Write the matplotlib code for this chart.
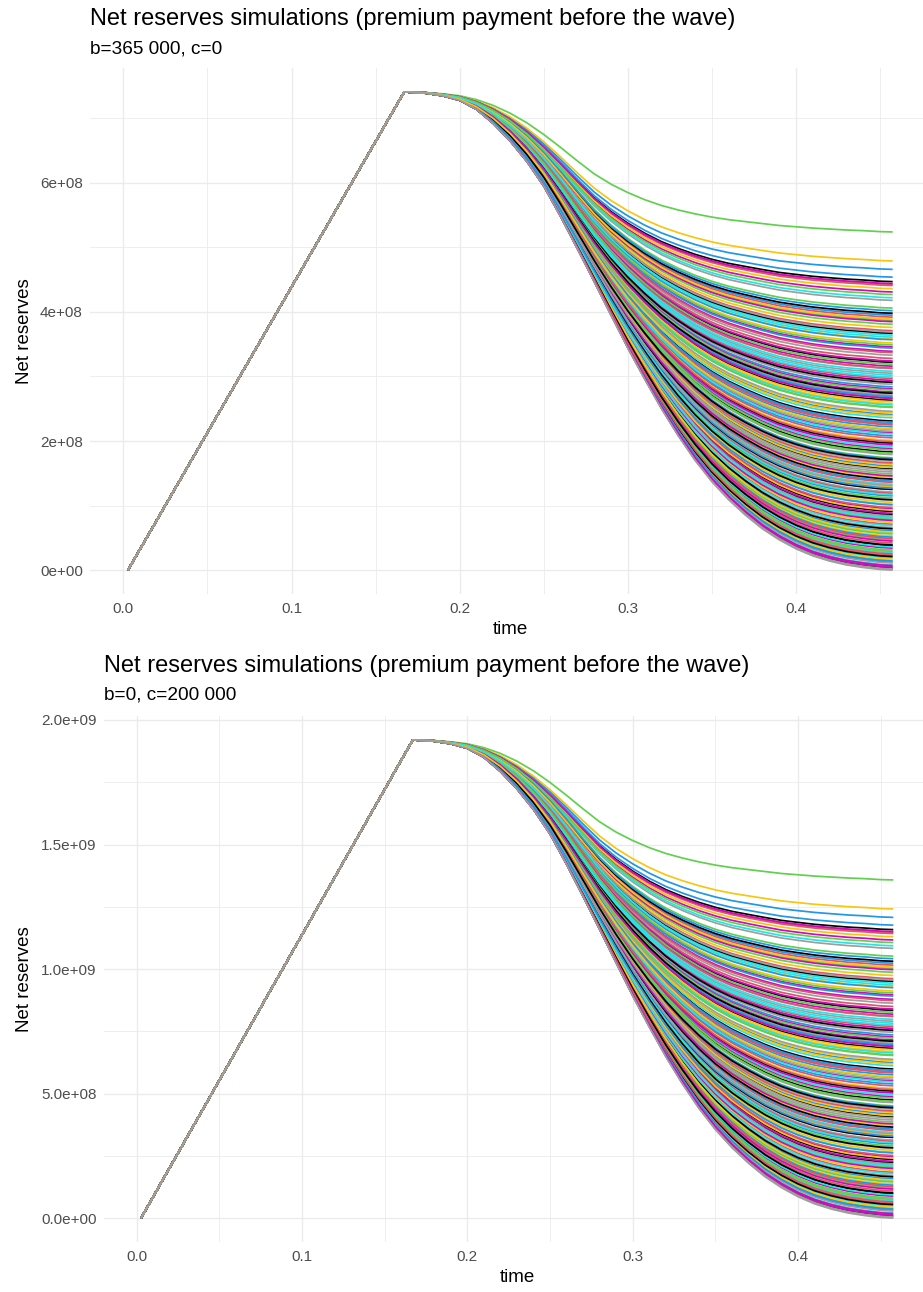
import numpy as np
import matplotlib.pyplot as plt
from matplotlib.ticker import FixedLocator, MultipleLocator

plt.rcParams['font.family'] = ['Liberation Sans', 'DejaVu Sans']

# R default palette, lines coloured in turn
palette = ["black", "#DF536B", "#61D04F", "#2297E6",
           "#28E2E5", "#CD0BBC", "#F5C710", "#9E9E9E"]

# premium ramp (shared by every simulation), values in 1e8 (top panel)
ramp_t = [0.0027, 0.167]
ramp_v = [0.0, 7.41]

# decline part: times and two reference paths
decline_t = [0.167, 0.18, 0.19, 0.20, 0.21, 0.22, 0.23, 0.24, 0.25, 0.26,
             0.27, 0.28, 0.29, 0.30, 0.31, 0.32, 0.33, 0.34, 0.35, 0.36,
             0.37, 0.38, 0.39, 0.40, 0.41, 0.42, 0.43, 0.44, 0.45, 0.4575]
lowest_v = [7.41, 7.39, 7.35, 7.28, 7.14, 6.92, 6.65, 6.33, 5.95, 5.48,
            4.98, 4.47, 3.95, 3.44, 2.96, 2.50, 2.08, 1.70, 1.37, 1.09,
            0.85, 0.64, 0.47, 0.33, 0.22, 0.14, 0.08, 0.04, 0.01, 0.00]
highest_v = [7.41, 7.40, 7.38, 7.35, 7.29, 7.20, 7.08, 6.93, 6.75, 6.55,
             6.34, 6.14, 5.98, 5.85, 5.74, 5.65, 5.58, 5.52, 5.47, 5.43,
             5.40, 5.37, 5.34, 5.32, 5.30, 5.285, 5.27, 5.26, 5.245, 5.24]

# final net reserves of each simulation (1e8, top panel), in drawing order
end_v = [
    2.31, 0.42, 3.87, 1.15, 0.08, 2.76, 1.64, 3.12,
    0.91, 2.05, 5.24, 1.38, 0.27, 3.46, 2.58, 0.66,
    1.83, 3.71, 0.15, 2.22, 1.02, 2.94, 0.53, 4.18,
    1.57, 3.28, 0.79, 4.66, 1.96, 0.34, 3.58, 1.21,
    0.03, 2.67, 1.74, 3.95, 0.58, 2.13, 1.29, 3.05,
    0.86, 4.41, 1.49, 2.84, 0.19, 3.39, 2.01, 1.08,
    3.22, 1.36, 0.47, 2.41, 3.64, 0.95, 4.79, 1.79,
    4.47, 0.71, 2.52, 0.12, 1.91, 3.16, 1.44, 2.88,
    1.25, 2.97, 3.81, 0.61, 2.36, 0.05, 3.52, 1.69,
    2.63, 0.23, 1.12, 4.54, 0.82, 1.88, 2.44, 3.33,
    0.38, 3.92, 2.18, 1.61, 3.02, 4.31, 0.74, 2.71,
    1.97, 1.19, 0.29, 3.44, 2.56, 0.88, 3.76, 0.01,
    3.67, 2.27, 4.06, 0.51, 1.33, 2.81, 0.17, 1.52,
    0.64, 4.43, 1.86, 2.69, 0.36, 3.24, 1.05, 2.15,
    2.91, 0.97, 3.49, 1.73, 4.22, 0.45, 2.39, 0.11,
    1.41, 3.13, 0.56, 2.08, 1.17, 3.85, 2.61, 0.84,
    0.21, 1.66, 2.79, 3.57, 0.69, 1.94, 4.36, 2.46,
    3.98, 2.25, 0.31, 1.27, 3.08, 0.77, 1.59, 3.69,
    1.09, 0.49, 2.53, 4.02, 2.11, 1.46, 0.93, 0.02,
    2.74, 3.37, 1.81, 0.14, 2.99, 4.44, 0.59, 1.31,
    0.39, 1.99, 3.19, 2.29, 0.81, 2.66, 3.89, 1.55,
    1.71, 0.25, 4.27, 1.01, 3.61, 0.07, 2.19, 0.00,
]

titles = ["Net reserves simulations (premium payment before the wave)"] * 2
subtitles = ["b=365 000, c=0", "b=0, c=200 000"]
peaks = [7.41e8, 1.92e9]
yticks = [[0, 2e8, 4e8, 6e8], [0, 5e8, 1e9, 1.5e9, 2e9]]
ylabels = [["0e+00", "2e+08", "4e+08", "6e+08"],
           ["0.0e+00", "5.0e+08", "1.0e+09", "1.5e+09", "2.0e+09"]]
yminor = [[1e8, 3e8, 5e8, 7e8], [2.5e8, 7.5e8, 1.25e9, 1.75e9]]
xticks = [0.0, 0.1, 0.2, 0.3, 0.4]
xlabels = ["0.0", "0.1", "0.2", "0.3", "0.4"]

W, H = 923, 1292
fig = plt.figure(figsize=(W / 100, H / 100), dpi=100)

# panel boxes in pixels: left, top, right, bottom
boxes = [(89.8, 68, 931, 594), (103.5, 716, 931, 1242)]
offsets = [0, 647]

peak0 = ramp_v[-1]
p_low = (peak0 - np.array(lowest_v)) / (peak0 - lowest_v[-1])
p_high = (peak0 - np.array(highest_v)) / (peak0 - highest_v[-1])
t_all = np.array(ramp_t + decline_t[1:])

for k in range(2):
    l, t, r, b = boxes[k]
    ax = fig.add_axes([l / W, 1 - b / H, (r - l) / W, (b - t) / H])
    scale = peaks[k] / peak0
    for i, e in enumerate(end_v):
        w = min(e / highest_v[-1], 1.0)
        prof = (1 - w) * p_low + w * p_high
        vals = peak0 - (peak0 - e) * prof
        y = np.concatenate([ramp_v, vals[1:]]) * scale
        ax.plot(t_all, y, color=palette[i % 8], lw=1.25, solid_capstyle='butt')

    ax.set_xlim(-0.0200, 0.4803)
    ax.set_ylim(-0.05 * peaks[k], 1.05 * peaks[k])
    ax.xaxis.set_major_locator(FixedLocator(xticks))
    ax.set_xticklabels(xlabels)
    ax.xaxis.set_minor_locator(MultipleLocator(0.05))
    ax.yaxis.set_major_locator(FixedLocator(yticks[k]))
    ax.set_yticklabels(ylabels[k])
    ax.yaxis.set_minor_locator(FixedLocator(yminor[k]))
    ax.grid(which='major', color='#EBEBEB', lw=1.0)
    ax.grid(which='minor', color='#EBEBEB', lw=0.6)
    ax.set_axisbelow(True)
    for s in ax.spines.values():
        s.set_visible(False)
    ax.tick_params(which='both', length=0, labelsize=11, labelcolor='#4D4D4D')
    ax.tick_params(axis='x', pad=5.5)
    ax.tick_params(axis='y', pad=5)
    ax.set_xlabel("time", fontsize=13.5, labelpad=3.5)
    ax.set_ylabel("Net reserves", fontsize=13.5)
    ax.yaxis.set_label_coords((33 - l) / (r - l), 0.5)

    off = offsets[k]
    fig.text(l / W, 1 - (25 + off) / H, titles[k], fontsize=17, va='baseline')
    fig.text(l / W, 1 - (53 + off) / H, subtitles[k], fontsize=13.7, va='baseline')

fig.savefig("out.png", dpi=100, facecolor='white')
